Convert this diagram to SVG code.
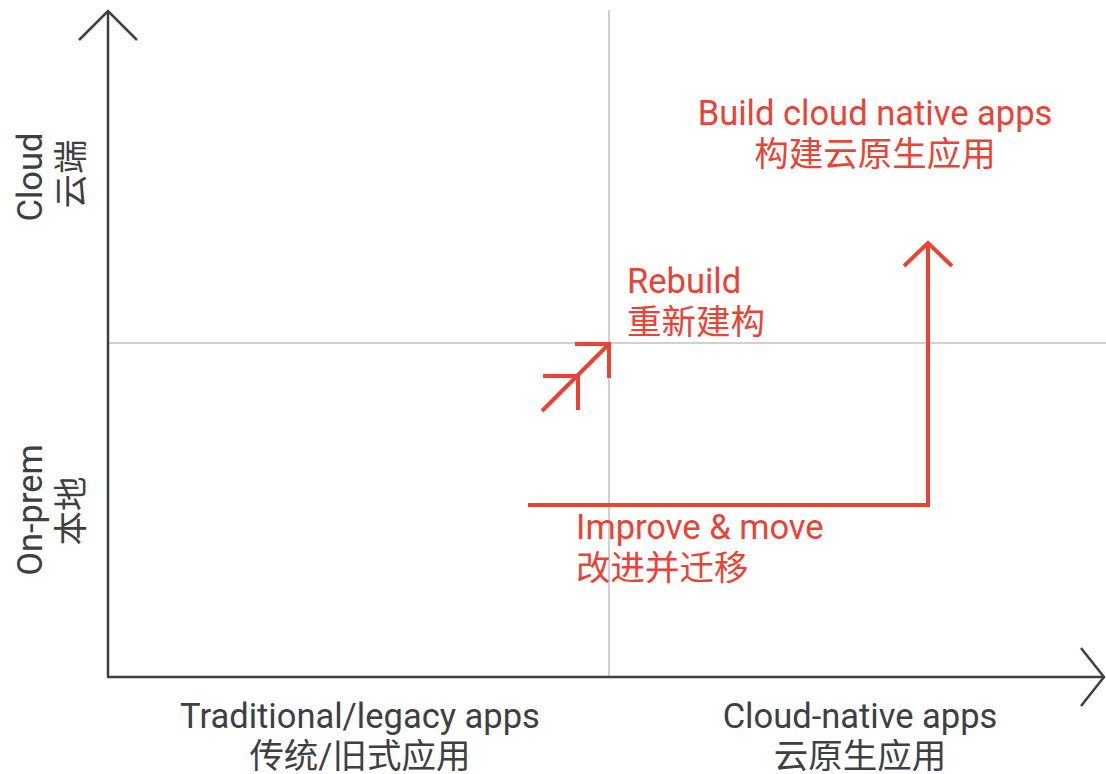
<svg xmlns="http://www.w3.org/2000/svg" width="1106" height="774" viewBox="0 0 1106 774">
<style>
.axis{stroke:#3c4043;stroke-width:2.5;fill:none}
.grid{stroke:#bdc1c6;stroke-width:1.5;fill:none}
.red{stroke:#ea4335;stroke-width:4;fill:none}
.g{font-family:Roboto,"Noto Sans CJK SC",sans-serif;font-size:34.5px;fill:#3c4043}
.r{font-family:Roboto,"Noto Sans CJK SC",sans-serif;font-size:34.5px;fill:#ea4335}
</style>
<rect width="1106" height="774" fill="#ffffff"/>
<g id="grid">
<line class="grid" x1="609" y1="10" x2="609" y2="677"/>
<line class="grid" x1="108" y1="343" x2="1106" y2="343"/>
</g>
<g id="axes">
<line class="axis" x1="108" y1="11" x2="108" y2="677"/>
<polyline class="axis" points="79,40 108,11 137,40"/>
<line class="axis" x1="107" y1="677" x2="1104" y2="677"/>
<polyline class="axis" points="1081,648 1104,677 1081,706"/>
</g>
<g id="connectors">
<polyline class="red" points="528,505 928,505 928,243"/>
<polyline class="red" points="904,266 928,243 952,266"/>
<line class="red" x1="542" y1="411" x2="609" y2="344"/>
<polyline class="red" points="575,344 609,344 609,378"/>
<polyline class="red" points="543,376 578,376 578,410"/>
</g>
<g id="label-cloud">
<text class="g" transform="translate(42,177) rotate(-90)" text-anchor="middle">Cloud</text>
<text class="g" transform="translate(83,174) rotate(-90)" text-anchor="middle">云端</text>
</g>
<g id="label-onprem">
<text class="g" transform="translate(42,510) rotate(-90)" text-anchor="middle">On-prem</text>
<text class="g" transform="translate(83,511) rotate(-90)" text-anchor="middle">本地</text>
</g>
<g id="label-traditional">
<text class="g" x="360" y="728" text-anchor="middle">Traditional/legacy apps</text>
<text class="g" x="360" y="768" text-anchor="middle">传统/旧式应用</text>
</g>
<g id="label-cloudnative">
<text class="g" x="860" y="728" text-anchor="middle">Cloud-native apps</text>
<text class="g" x="860" y="768" text-anchor="middle">云原生应用</text>
</g>
<g id="node-build">
<text class="r" x="875" y="125" text-anchor="middle">Build cloud native apps</text>
<text class="r" x="875" y="166" text-anchor="middle">构建云原生应用</text>
</g>
<g id="node-rebuild">
<text class="r" x="627" y="293">Rebuild</text>
<text class="r" x="627" y="334">重新建构</text>
</g>
<g id="node-improve">
<text class="r" x="576" y="539">Improve &amp; move</text>
<text class="r" x="576" y="580">改进并迁移</text>
</g>
</svg>
